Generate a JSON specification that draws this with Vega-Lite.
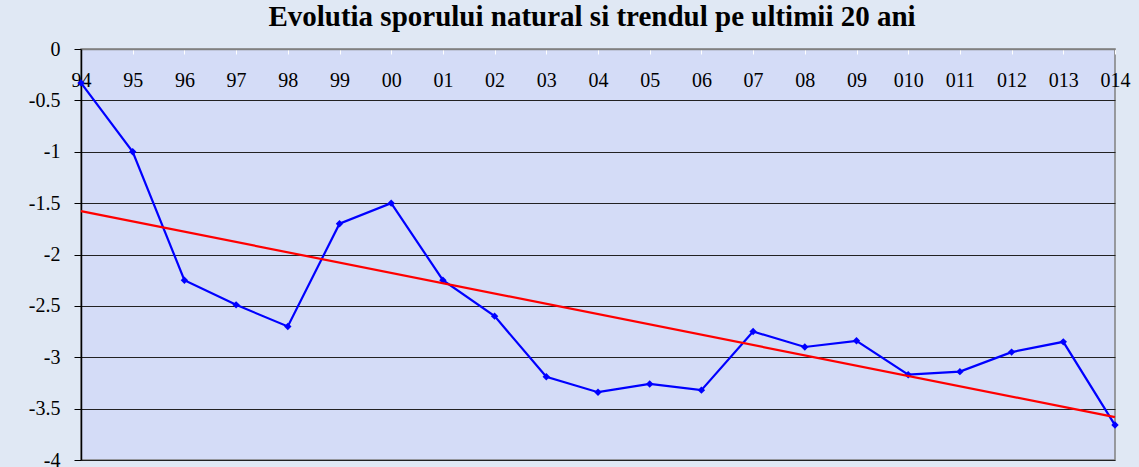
{
  "$schema": "https://vega.github.io/schema/vega-lite/v6.json",
  "width": 1034,
  "height": 411,
  "autosize": "none",
  "padding": {"left": 81, "top": 49, "right": 24, "bottom": 7},
  "background": "#e0e8f4",
  "config": {
    "view": {"fill": "#d4dcf7", "stroke": "#808080", "strokeWidth": 1.5},
    "font": "Liberation Serif"
  },
  "title": {
    "text": "Evolutia  sporului  natural  si  trendul  pe ultimii  20 ani",
    "font": "Liberation Serif",
    "fontSize": 29,
    "fontWeight": "bold",
    "color": "#000000",
    "anchor": "middle",
    "dx": -6,
    "offset": 7
  },
  "data": {
    "values": [
      {"i": 0, "an": "94", "v": -0.33},
      {"i": 1, "an": "95", "v": -1.0},
      {"i": 2, "an": "96", "v": -2.25},
      {"i": 3, "an": "97", "v": -2.49},
      {"i": 4, "an": "98", "v": -2.7},
      {"i": 5, "an": "99", "v": -1.7},
      {"i": 6, "an": "00", "v": -1.5},
      {"i": 7, "an": "01", "v": -2.25},
      {"i": 8, "an": "02", "v": -2.6},
      {"i": 9, "an": "03", "v": -3.19},
      {"i": 10, "an": "04", "v": -3.34},
      {"i": 11, "an": "05", "v": -3.26},
      {"i": 12, "an": "06", "v": -3.32},
      {"i": 13, "an": "07", "v": -2.75},
      {"i": 14, "an": "08", "v": -2.9},
      {"i": 15, "an": "09", "v": -2.84},
      {"i": 16, "an": "010", "v": -3.17},
      {"i": 17, "an": "011", "v": -3.14},
      {"i": 18, "an": "012", "v": -2.95},
      {"i": 19, "an": "013", "v": -2.85},
      {"i": 20, "an": "014", "v": -3.66}
    ]
  },
  "encoding": {
    "x": {
      "field": "i",
      "type": "quantitative",
      "scale": {"domain": [0, 20], "nice": false, "zero": false},
      "axis": {
        "orient": "top",
        "title": null,
        "values": [0,1,2,3,4,5,6,7,8,9,10,11,12,13,14,15,16,17,18,19,20],
        "labelExpr": "['94','95','96','97','98','99','00','01','02','03','04','05','06','07','08','09','010','011','012','013','014'][datum.value]",
        "grid": false,
        "domainColor": "#808080",
        "domainWidth": 1.5,
        "tickColor": "#ffffff",
        "tickSize": -5,
        "labelPadding": -26,
        "labelBaseline": "middle",
        "labelFont": "Liberation Serif",
        "labelFontSize": 20,
        "labelColor": "#000000",
        "labelFlush": false,
        "labelOverlap": false
      }
    },
    "y": {
      "field": "v",
      "type": "quantitative",
      "scale": {"domain": [-4, 0], "nice": false},
      "axis": {
        "title": null,
        "values": [0, -0.5, -1, -1.5, -2, -2.5, -3, -3.5, -4],
        "labelExpr": "datum.value + ''",
        "grid": true,
        "gridColor": "#222222",
        "gridWidth": 1,
        "domainColor": "#000000",
        "domainWidth": 1.5,
        "tickColor": "#000000",
        "tickSize": 7,
        "labelPadding": 14,
        "labelFont": "Liberation Serif",
        "labelFontSize": 20,
        "labelColor": "#000000",
        "labelOverlap": false
      }
    }
  },
  "layer": [
    {
      "mark": {"type": "line", "color": "#0000ff", "strokeWidth": 2.2}
    },
    {
      "mark": {"type": "point", "shape": "diamond", "filled": true, "color": "#0000ff", "size": 55, "opacity": 1}
    },
    {
      "transform": [{"regression": "v", "on": "i", "method": "linear", "extent": [0, 20]}],
      "mark": {"type": "line", "color": "#ff0000", "strokeWidth": 2.2}
    }
  ]
}
